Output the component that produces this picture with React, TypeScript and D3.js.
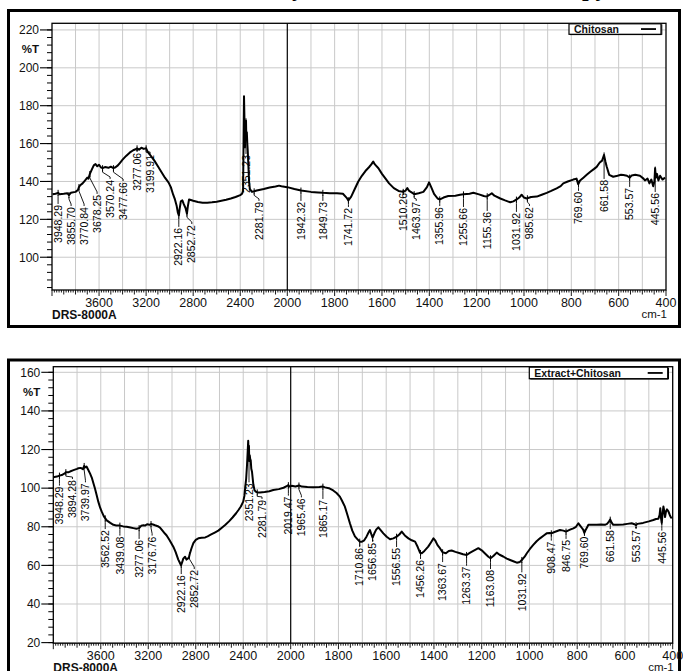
import React from 'react';
import * as d3 from 'd3';

// ---------- Chitosan spectrum (wavenumber cm-1, %T) ----------
const chitosanWn = [3995,3970,3948,3935,3900,3870,3856,3840,3800,3780,3771,3760,3740,3720,3700,3690,3678,3660,3645,3630,3615,3600,3585,3570,3550,3520,3500,3478,3460,3440,3420,3400,3370,3340,3310,3290,3277,3260,3240,3220,3200,3185,3160,3130,3100,3070,3040,3010,2990,2970,2955,2940,2930,2922,2915,2905,2892,2880,2865,2853,2845,2835,2820,2800,2760,2720,2680,2640,2600,2560,2520,2480,2440,2400,2385,2376,2372,2368,2364,2360,2355,2351,2348,2344,2340,2336,2332,2325,2318,2300,2281,2260,2200,2150,2100,2070,2050,2000,1970,1942,1900,1870,1850,1820,1790,1765,1750,1742,1730,1715,1700,1685,1670,1655,1645,1637,1630,1615,1600,1585,1570,1550,1530,1510,1500,1493,1485,1470,1464,1445,1425,1410,1401,1392,1380,1365,1355,1340,1320,1290,1270,1255,1230,1214,1190,1170,1158,1145,1136,1125,1100,1080,1058,1045,1031,1020,1010,1000,989,970,946,925,904,885,862,845,834,815,792,778,771,763,749,735,721,705,693,680,670,662,656,651,640,623,605,590,580,565,553,545,530,510,495,489,478,470,462,454,449,446,443,438,432,425,415,404];
const chitosanT = [133.2,133.5,134,133.2,133.5,133.8,132.8,134,134.5,135.5,137,138,139,140.5,142,141.5,144,146.5,148.5,149.2,148,148.8,147.5,147,147.6,147.2,147.8,147,147.5,148.5,150,151.5,153.5,155.2,156.5,157,157.5,156.8,157.8,157.2,157.5,155.5,153.5,151,148,145,142,139.5,137,133,130.5,127,123.5,122,125.5,129.5,130,128,126,123,127,130.5,130.2,129.8,129.2,128.8,128.8,129,129.3,129.8,130.3,131,131.8,132.8,133.5,135,160,185,172,158,168,172,162,166,160,156,150,140,136,134.5,134.8,135.2,136,136.8,137.3,137.8,137.5,137,136,135.2,134.5,134.2,134,133.8,133.8,133.5,131.5,130,132,136,140,143,145.5,147.5,149,150.5,149,147,144,141.5,139,136.5,135,134.5,135.2,136.5,135,133.8,133.3,133.8,134.5,137,139.5,137,133.5,131,130.5,131.5,132.3,132.5,133,133.2,133.5,134,133.2,132.3,132,133,133.8,132.5,131,130,129,129.5,130.5,131.5,133,131.5,131,131.8,132,133,134,135,136.4,137.5,139,140,141,141.5,138.5,140.5,142,143.5,145,146.5,147.7,150,151,154,150.5,148,143.5,142.5,143,143.5,143.4,143,142,143.2,143.5,143,141.5,140.5,141.5,139,141,137.5,140,147,142,144,140.5,143,141,142];
const chitosanPeaks = [3948.29,3855.70,3770.84,3678.25,3570.24,3477.66,3277.06,3199.91,2922.16,2852.72,2351.23,2281.79,1942.32,1849.73,1741.72,1510.26,1463.97,1355.96,1255.66,1155.36,1031.92,985.62,769.60,661.58,553.57,445.56];
const chitosanLabelT = [127.6,126.5,126.5,132.9,140.8,139.7,155.1,154.0,115.5,117.0,154.0,129.2,129.2,129.2,126.0,133.9,129.2,126.5,126.0,123.9,123.4,126.5,134.5,140.8,136.6,133.9];

// ---------- Extract+Chitosan spectrum ----------
const blendWn = [4000,3970,3948,3929,3900,3894,3870,3859,3830,3800,3789,3770,3750,3740,3730,3720,3705,3690,3676,3662,3649,3635,3621,3606,3592,3575,3562,3550,3520,3494,3470,3439,3410,3382,3350,3326,3300,3277,3260,3240,3227,3210,3190,3177,3160,3143,3120,3101,3080,3060,3045,3020,2989,2970,2947,2935,2924,2915,2905,2890,2878,2868,2858,2850,2835,2820,2800,2778,2750,2720,2700,2670,2640,2610,2580,2550,2520,2490,2460,2440,2420,2400,2390,2384,2375,2368,2363,2358,2355,2352,2349,2345,2341,2337,2332,2326,2315,2305,2295,2282,2259,2220,2180,2147,2100,2060,2034,2020,2010,1996,1980,1965,1954,1930,1905,1880,1865,1856,1840,1822,1808,1794,1785,1773,1762,1752,1742,1731,1720,1711,1703,1692,1682,1674,1668,1662,1657,1650,1642,1633,1625,1612,1598,1584,1570,1556,1545,1535,1522,1507,1493,1479,1468,1458,1451,1440,1424,1412,1402,1395,1385,1375,1364,1350,1338,1326,1310,1291,1278,1263,1250,1235,1214,1200,1185,1172,1163,1150,1137,1125,1110,1095,1081,1065,1053,1040,1032,1020,1011,998,984,970,956,940,928,915,908,895,872,858,847,830,816,805,795,787,781,775,770,764,753,735,718,700,684,675,668,662,655,649,630,607,590,572,560,554,548,524,500,481,470,460,455,452,449,446,443,439,435,432,428,424,418,412,408,404];
const blendT = [105.6,106,106.5,106.8,107.8,108.3,108.3,108.6,109.3,110,110.3,110.5,109.8,111.5,110.8,111.2,109.4,107.5,105.5,102.5,99.8,96.5,93,90,87.8,85.5,84.3,83.3,82,81,80.7,80.6,80.2,80,79.6,79.3,79,79.3,80.5,80.8,80.6,81.3,81,81.4,81.2,80.8,80.3,79.6,78,76.5,75.5,73,69.7,67,63,61.5,60,61.5,63.5,64.5,63,63.5,64,66,69,71.5,73.2,74,74.3,74.5,75,76,77,78,79.5,81,82.8,84.8,87,88.7,90.5,93,96,100,105,112,118,124.5,119,122,114,117,115,114.5,110,108.5,102,99,98.2,97.8,97.7,98,98.4,99,99.5,100.2,101,101.6,100.8,101.2,100.9,101.4,100.8,100.6,100.5,100.6,100.8,100.4,100,98.8,97.5,95.6,93.5,90.4,86,81.8,78,75,73.5,72.3,72.2,73,75,77,78.3,76,74.4,76.5,78.5,79.7,78.5,76.6,74.8,73.5,74,74.9,76,77.5,75.5,74,73,72.3,69.5,66.5,66.3,67.5,69.7,72,74,73,70.5,68.9,66.8,66.3,67.5,67.7,67,66.3,65.8,65.4,66.5,67.5,68.9,67.8,66,64.5,63.7,65,66.6,65.5,64.6,63.5,62.8,62,61.4,61.8,62.8,64.5,66.3,68.5,70.6,72.5,74,75.5,76.6,76.8,76.6,77.3,78.3,78,77.5,78.5,79.2,80,81.8,80.5,79.5,78.5,76.8,78.5,81,81,81,81.2,81,81.5,82.5,83.8,82,81,81,81.2,81.5,81.8,81.3,80.8,81.5,82,82.8,83.5,84,84.2,86,89.6,84.5,82,86,90.5,88,85,88,89,88,86,85,84.4];
const blendPeaks = [3948.29,3894.28,3739.97,3562.52,3439.08,3277.06,3176.76,2922.16,2852.72,2351.23,2281.79,2019.47,1965.46,1865.17,1710.86,1656.85,1556.55,1456.26,1363.67,1263.37,1163.08,1031.92,908.47,846.75,769.60,661.58,553.57,445.56];
const blendLabelT = [100.8,104.2,102.5,78.3,74.9,73.2,74.9,55.0,57.6,102.5,93.9,95.6,94.7,93.9,69.0,71.6,69.0,62.8,61.2,59.3,57.6,55.9,72.3,73.2,74.9,78.3,78.3,77.5];

// ---------- axis ticks ----------
const xLabelTicks = [3600,3200,2800,2400,2000,1800,1600,1400,1200,1000,800,600,400];
const topYTicks = [100,120,140,160,180,200,220];
const bottomYTicks = [20,40,60,80,100,120,140,160];

const FONT = "'Liberation Sans', Arial, Helvetica, sans-serif";

function interp(wn: number[], t: number[], w: number) {
  for (let i = 0; i < wn.length - 1; i++) {
    if (wn[i] >= w && wn[i + 1] <= w) {
      const f = (wn[i] - w) / (wn[i] - wn[i + 1]);
      return t[i] + f * (t[i + 1] - t[i]);
    }
  }
  return t[t.length - 1];
}

type PanelProps = {
  frameY: number; frameH: number;
  left: number; mid: number; right: number;
  top: number; bottom: number;
  yDomain: [number, number];
  yTicks: number[]; percentT: number;
  wn: number[]; t: number[];
  peaks: number[]; labelT: number[];
  legend: string; legendLeft: number; legendH: number;
};

function Panel(p: PanelProps) {
  const x = d3.scaleLinear().domain([4000, 2000, 400]).range([p.left, p.mid, p.right]);
  const y = d3.scaleLinear().domain(p.yDomain).range([p.bottom, p.top]);
  const line = d3.line<number>().x((_, i) => x(p.wn[i])).y((d) => y(d));

  const gridV: number[] = [];
  for (let w = 3800; w > 2000; w -= 200) gridV.push(w);
  for (let w = 1900; w > 400; w -= 100) gridV.push(w);
  const yMinor: number[] = [];
  for (let v = Math.ceil(p.yDomain[0] / 4) * 4; v <= p.yDomain[1]; v += 4) yMinor.push(v);
  const xMinor: { w: number; len: number }[] = [];
  for (let w = 4000; w >= 2000; w -= 20) xMinor.push({ w, len: w % 400 === 0 ? 6 : w % 100 === 0 ? 4.5 : 2.5 });
  for (let w = 1990; w >= 400; w -= 10) xMinor.push({ w, len: w % 200 === 0 ? 6 : w % 50 === 0 ? 4.5 : 2.5 });

  const items = p.peaks.map((w, i) => ({ w, px: x(w), cy: y(interp(p.wn, p.t, w)), ly: y(p.labelT[i]) }))
    .sort((a, b) => a.px - b.px);
  let prev = -1e9;
  const placed = items.map((it) => {
    const lx = Math.max(it.px, prev + 13);
    prev = lx;
    return { ...it, lx };
  });

  const legendRight = p.right - 5;
  return (
    <g>
      <rect x={8.5} y={p.frameY} width={671} height={p.frameH} fill="white" stroke="black" strokeWidth={3} />
      {gridV.map((w) => (
        <line key={'gv' + w} x1={x(w)} x2={x(w)} y1={p.top} y2={p.bottom} stroke="#c9c9c9" strokeWidth={1} />
      ))}
      {p.yTicks.map((v) => (
        <line key={'gh' + v} x1={p.left} x2={p.right} y1={y(v)} y2={y(v)} stroke="#c9c9c9" strokeWidth={1} />
      ))}
      <line x1={x(2000)} x2={x(2000)} y1={p.top} y2={p.bottom} stroke="black" strokeWidth={1.2} />
      <rect x={p.left} y={p.top} width={p.right - p.left} height={p.bottom - p.top} fill="none" stroke="black" strokeWidth={1.3} />
      {yMinor.map((v) => (
        <line key={'ym' + v} x1={p.left - 5} x2={p.left} y1={y(v)} y2={y(v)} stroke="black" strokeWidth={1} />
      ))}
      {p.yTicks.map((v) => (
        <g key={'yt' + v}>
          <line x1={p.left - 12} x2={p.left} y1={y(v)} y2={y(v)} stroke="black" strokeWidth={1.1} />
          <text x={p.left - 13} y={y(v)} dy="0.36em" textAnchor="end" fontFamily={FONT} fontSize={12} fill="#111">{v}</text>
        </g>
      ))}
      <text x={p.left - 13} y={y(p.percentT)} dy="0.36em" textAnchor="end" fontFamily={FONT} fontSize={11.5} fontWeight="bold" fill="#111">%T</text>
      {xMinor.map((d) => (
        <line key={'xm' + d.w} x1={x(d.w)} x2={x(d.w)} y1={p.bottom} y2={p.bottom + d.len} stroke="black" strokeWidth={0.9} />
      ))}
      {xLabelTicks.map((w) => (
        <text key={'xl' + w} x={x(w)} y={p.bottom + 16.5} textAnchor="middle" fontFamily={FONT} fontSize={12.5} fill="#111">{w}</text>
      ))}
      <text x={p.left} y={p.bottom + 29} fontFamily={FONT} fontSize={12} fontWeight="bold" fill="#111">DRS-8000A</text>
      <text x={p.right + 1} y={p.bottom + 27.5} textAnchor="end" fontFamily={FONT} fontSize={11.5} fill="#111">cm-1</text>
      <path d={line(p.t) || ''} fill="none" stroke="black" strokeWidth={2} strokeLinejoin="round" />
      {placed.map((it) => (
        <g key={'pk' + it.w}>
          <line x1={it.px} x2={it.px} y1={it.cy - 3} y2={it.cy + 3} stroke="black" strokeWidth={1} />
          <polyline points={`${it.px},${it.cy + 2} ${it.px},${Math.min(it.cy + 4, it.ly - 2)} ${it.lx},${it.ly - 3} ${it.lx},${it.ly - 1}`} fill="none" stroke="black" strokeWidth={0.9} />
          <text transform={`translate(${it.lx},${it.ly}) rotate(-90)`} textAnchor="end" dy="0.35em" fontFamily={FONT} fontSize={10.5} fill="#000">{it.w.toFixed(2)}</text>
        </g>
      ))}
      <rect x={p.legendLeft} y={p.top + 0.5} width={legendRight - p.legendLeft} height={p.legendH} fill="white" stroke="black" strokeWidth={1.2} />
      <line x1={p.legendLeft + 1} x2={legendRight + 0.6} y1={p.top + p.legendH + 0.8} y2={p.top + p.legendH + 0.8} stroke="black" strokeWidth={1} />
      <line x1={legendRight + 0.8} x2={legendRight + 0.8} y1={p.top + 1} y2={p.top + p.legendH + 1} stroke="black" strokeWidth={1} />
      <text x={p.legendLeft + 5} y={p.top + p.legendH / 2 + 0.5} dy="0.36em" fontFamily={FONT} fontSize={10.5} fontWeight="bold" fill="#111">{p.legend}</text>
      <line x1={legendRight - 20} x2={legendRight - 5} y1={p.top + p.legendH / 2 + 0.5} y2={p.top + p.legendH / 2 + 0.5} stroke="black" strokeWidth={1.8} />
    </g>
  );
}

export default function App() {
  return (
    <svg width={683} height={671} viewBox="0 0 683 671" style={{ position: 'absolute', left: 0, top: 0, background: 'white' }}>
      <rect x={0} y={0} width={683} height={671} fill="white" />
      <text x={396} y={-4} textAnchor="middle" fontFamily="'Liberation Serif', 'Times New Roman', serif" fontWeight="bold" fontSize={24}>FTIR analysis of the chitosan microscopy</text>
      <Panel frameY={10.5} frameH={316} left={52} mid={287.3} right={666} top={23.3} bottom={290}
        yDomain={[82.7, 223.5]} yTicks={topYTicks} percentT={210}
        wn={chitosanWn} t={chitosanT} peaks={chitosanPeaks} labelT={chitosanLabelT}
        legend="Chitosan" legendLeft={569} legendH={10.5} />
      <Panel frameY={360} frameH={330} left={53.3} mid={290.7} right={672.7} top={366.7} bottom={643.2}
        yDomain={[19.7, 162.9]} yTicks={bottomYTicks} percentT={150}
        wn={blendWn} t={blendT} peaks={blendPeaks} labelT={blendLabelT}
        legend="Extract+Chitosan" legendLeft={529.3} legendH={11.5} />
    </svg>
  );
}
